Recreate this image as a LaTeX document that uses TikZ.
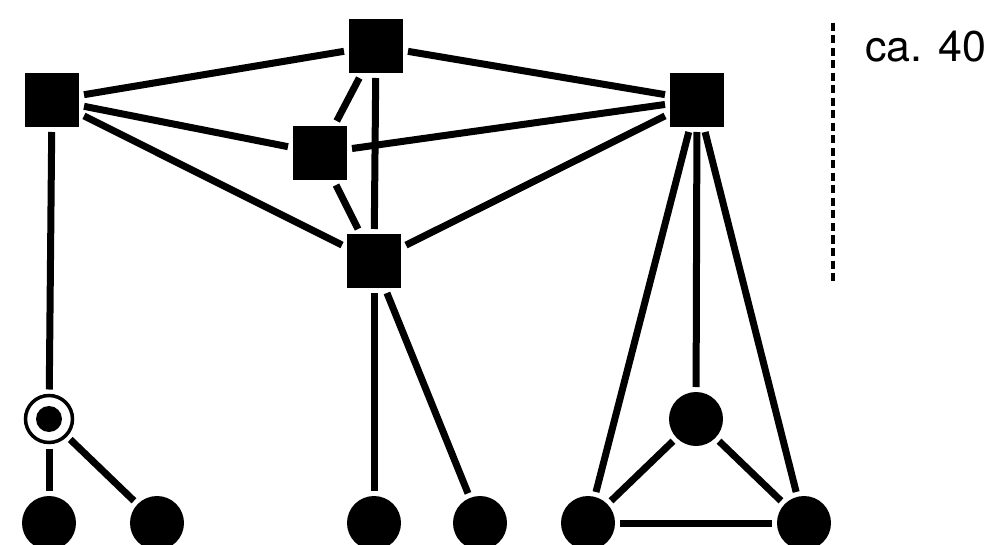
\documentclass[tikz,border=0pt]{standalone}
\usepackage{fontspec}
\setmainfont{TeX Gyre Heros}
\begin{document}
\begin{tikzpicture}[x=1pt,y=-1pt,
  sq/.style={fill=black,minimum size=54pt,inner sep=0pt,outer sep=5pt},
  dot/.style={circle,fill=black,minimum size=54pt,inner sep=0pt,outer sep=5pt},
  ring/.style={circle,draw=black,line width=3.5pt,minimum size=47pt,inner sep=0pt,outer sep=6pt},
  edge/.style={line width=7pt}]
\useasboundingbox (0,0) rectangle (992,545);
\clip (0,0) rectangle (992,545);
\fill[white] (0,0) rectangle (992,545);
\node[sq] (A) at (52,100) {};
\node[sq] (B) at (376,46) {};
\node[sq] (C) at (320,153) {};
\node[sq] (D) at (374,261) {};
\node[sq] (E) at (697,100) {};
\node[ring] (F) at (49,419) {};
\fill (F.center) circle (13pt);
\node[dot] (G) at (49,523) {};
\node[dot] (H) at (157,523) {};
\node[dot] (I) at (374,523) {};
\node[dot] (J) at (480,523) {};
\node[dot] (K) at (588,523) {};
\node[dot] (L) at (696,419) {};
\node[dot] (M) at (804,523) {};
\draw[edge] (A) -- (B);
\draw[edge] (A) -- (C);
\draw[edge] (A) -- (D);
\draw[edge] (B) -- (E);
\draw[edge] (B) -- (C);
\draw[edge] (B) -- (D);
\draw[edge] (C) -- (D);
\draw[edge] (E) -- (C);
\draw[edge] (E) -- (D);
\draw[edge] (A) -- (F);
\draw[edge] (F) -- (G);
\draw[edge] (F) -- (H);
\draw[edge] (D) -- (I);
\draw[edge] (D) -- (J);
\draw[edge] (E) -- (K);
\draw[edge] (E) -- (L);
\draw[edge] (E) -- (M);
\draw[edge] (L) -- (K);
\draw[edge] (L) -- (M);
\draw[edge] (K) -- (M);
\coordinate (s1) at (833,23);
\coordinate (s2) at (833,285);
\draw[line width=4pt,dash pattern=on 8pt off 4.5pt] (s1) -- (s2);
\node[anchor=base west,inner sep=0pt,font=\fontsize{43}{50}\selectfont] (T) at (865,62) {ca. 40};
\end{tikzpicture}
\end{document}
